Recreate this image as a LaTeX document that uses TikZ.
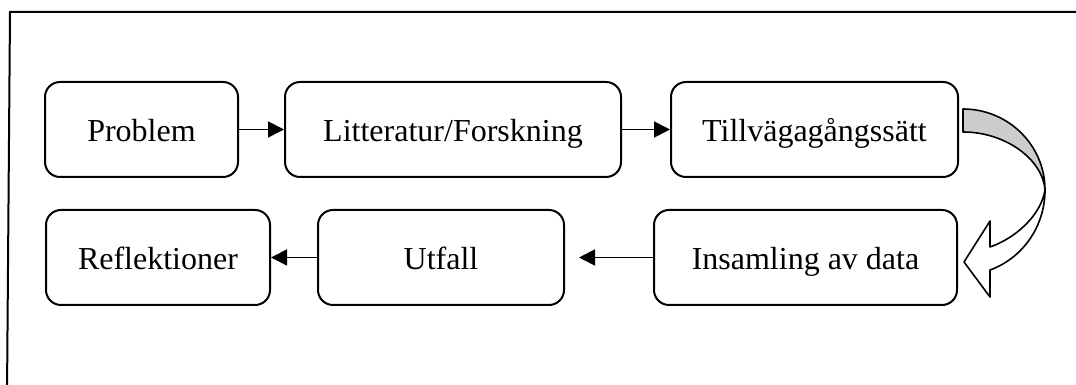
\documentclass[tikz,border=0pt]{standalone}
\usepackage{fontspec}
\setmainfont{Liberation Serif}
\usetikzlibrary{arrows.meta}

\begin{document}
\begin{tikzpicture}[x=0.5pt, y=0.5pt,
      stage/.style={draw=black, line width=1pt, rounded corners=7.5pt, fill=white,
        font=\fontsize{16}{19}\selectfont, align=center, text height=12.5pt, text depth=0pt,
        minimum height=47.5pt, inner sep=2pt},
      flow/.style={-{Triangle[length=8pt, width=8pt]}, line width=0.9pt, draw=black},
      frame/.style={line width=1pt, draw=black},
      turn/.style={line width=0.8pt, draw=black, line join=round}
    ]
    \useasboundingbox (0,0) rectangle (1076,385);
    \draw[frame] (1090,373) -- (10,373) -- (7,-10);
    % upper row
    \node[stage, minimum width=96.5pt]  (problem) at (141.5,255.5) {Problem};
    \node[stage, minimum width=168pt]   (litt)    at (453,255.5)   {Litteratur/Forskning};
    \node[stage, minimum width=143.5pt] (tillv)   at (814.5,255.5) {Tillvägagångssätt};
    % lower row
    \node[stage, minimum width=112pt]   (refl)    at (158,127.5)   {Reflektioner};
    \node[stage, minimum width=123pt]   (utfall)  at (441,127.5)   {Utfall};
    \node[stage, minimum width=151.5pt] (insam)   at (805.5,127.5) {Insamling av data};
    \draw[flow] (problem) -- (litt);
    \draw[flow] (litt) -- (tillv);
    \draw[flow, shorten >=7pt] (insam) -- (utfall);
    \draw[flow] (utfall) -- (refl);
    % curved block arrow from tillv down to insam
    \begin{scope}[shift={(tillv.east)}]
      \filldraw[turn, fill=black!20] (4,20.5) .. controls (49,20.5) and (86,-15.5) .. (86,-60.5)
        .. controls (84,-30.5) and (47,-2.5) .. (4,-2.5) -- cycle;
      \filldraw[turn, fill=white] (86,-60.5) .. controls (86,-96.5) and (64,-128.5) .. (31,-140.5)
        -- (31,-167.5) -- (5,-132.5) -- (31,-91.5) -- (31,-117.5)
        .. controls (57,-108.5) and (82,-85.5) .. (86,-60.5) -- cycle;
    \end{scope}
\end{tikzpicture}
\end{document}
